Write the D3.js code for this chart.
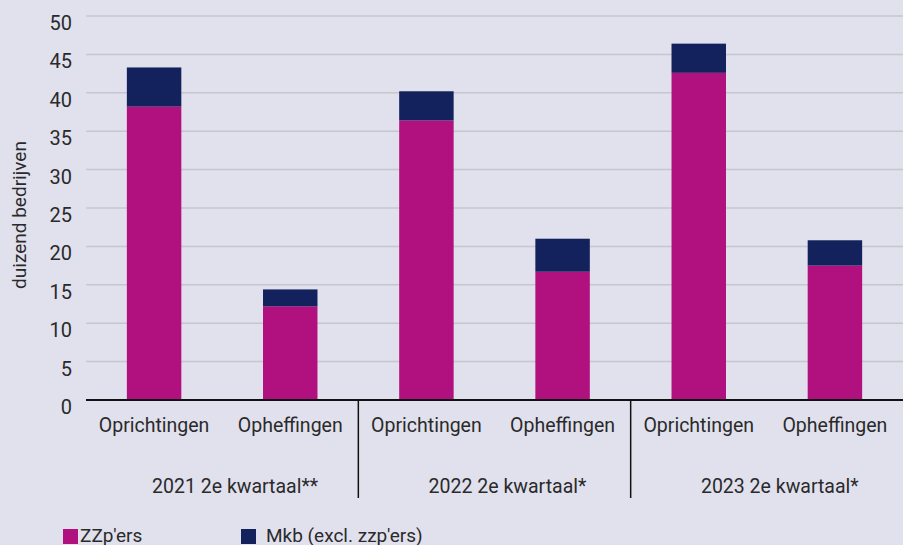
<!DOCTYPE html>
<html>
<head>
<meta charset="utf-8">
<script src="https://cdn.jsdelivr.net/npm/d3@7"></script>
<style>
  body { margin: 0; background: #e1e1ee; }
  svg { display: block; font-family: Roboto, "Open Sans", sans-serif; }
</style>
</head>
<body>
<svg id="chart" width="903" height="545"></svg>
<script>
let groups = ["2021 2e kwartaal**", "2022 2e kwartaal*", "2023 2e kwartaal*"];
let types = ["Oprichtingen", "Opheffingen"];
let zzp = [38.2, 12.2, 36.4, 16.7, 42.6, 17.5];
let mkb = [5.1, 2.2, 3.8, 4.3, 3.8, 3.3];
let yTicks = [0, 5, 10, 15, 20, 25, 30, 35, 40, 45, 50];
let seriesNames = ["ZZp'ers", "Mkb (excl. zzp'ers)"];
let colors = ["#b0117e", "#13225c"];

let svg = d3.select("#chart");
let margin = { left: 86, right: 0, top: 16, bottom: 145 };
let width = 903, height = 545;
let textColor = "#2a2a2a";

let rows = [];
groups.forEach((g, gi) => {
  types.forEach((t, ti) => {
    let i = gi * 2 + ti;
    rows.push({ key: i, group: g, type: t, zzp: zzp[i], mkb: mkb[i] });
  });
});

let x = d3.scaleBand()
  .domain(rows.map((d) => d.key))
  .range([margin.left, width - margin.right])
  .paddingInner(0.6)
  .paddingOuter(0.3);

let y = d3.scaleLinear()
  .domain([0, 50])
  .range([height - margin.bottom, margin.top]);

// gridlines
svg.append("g")
  .selectAll("line")
  .data(yTicks.filter((d) => d > 0))
  .enter()
  .append("line")
  .attr("x1", margin.left)
  .attr("x2", width)
  .attr("y1", (d) => y(d))
  .attr("y2", (d) => y(d))
  .attr("stroke", "#c6c6cf")
  .attr("stroke-width", 1.5);

// y tick labels
svg.append("g")
  .selectAll("text")
  .data(yTicks)
  .enter()
  .append("text")
  .text((d) => d)
  .attr("x", 72)
  .attr("y", (d) => y(d) + 14)
  .attr("text-anchor", "end")
  .attr("font-size", 20)
  .attr("fill", textColor);

svg.append("text")
  .text("duizend bedrijven")
  .attr("transform", "translate(26, 215) rotate(-90)")
  .attr("text-anchor", "middle")
  .attr("font-size", 19)
  .attr("fill", textColor);

// stacked bars
let stack = d3.stack().keys(["zzp", "mkb"]);
let layers = stack(rows);

svg.append("g")
  .selectAll("g")
  .data(layers)
  .enter()
  .append("g")
  .attr("fill", (d, i) => colors[i])
  .selectAll("rect")
  .data((d) => d)
  .enter()
  .append("rect")
  .attr("x", (d) => x(d.data.key))
  .attr("width", x.bandwidth())
  .attr("y", (d) => y(d[1]))
  .attr("height", (d) => y(d[0]) - y(d[1]));

// axis line
svg.append("line")
  .attr("x1", margin.left)
  .attr("x2", width)
  .attr("y1", y(0))
  .attr("y2", y(0))
  .attr("stroke", "#111")
  .attr("stroke-width", 2);

// category labels
svg.append("g")
  .selectAll("text")
  .data(rows)
  .enter()
  .append("text")
  .text((d) => d.type)
  .attr("x", (d) => x(d.key) + x.bandwidth() / 2)
  .attr("y", y(0) + 32)
  .attr("text-anchor", "middle")
  .attr("font-size", 19.5)
  .attr("fill", textColor);

// group separators and labels
let step = x.step();
let groupStart = (gi) => margin.left + gi * 2 * step;

svg.append("g")
  .selectAll("line")
  .data([1, 2])
  .enter()
  .append("line")
  .attr("x1", (d) => groupStart(d))
  .attr("x2", (d) => groupStart(d))
  .attr("y1", y(0))
  .attr("y2", y(0) + 98)
  .attr("stroke", "#111")
  .attr("stroke-width", 1.5);

svg.append("g")
  .selectAll("text")
  .data(groups)
  .enter()
  .append("text")
  .text((d) => d)
  .attr("x", (d, i) => groupStart(i) + step + 13)
  .attr("y", y(0) + 93)
  .attr("text-anchor", "middle")
  .attr("font-size", 19.5)
  .attr("fill", textColor);

// legend
let legendX = [63, 241];
let legend = svg.append("g")
  .selectAll("g")
  .data(seriesNames)
  .enter()
  .append("g")
  .attr("transform", (d, i) => `translate(${legendX[i]}, 529)`);

legend.append("rect")
  .attr("width", 15)
  .attr("height", 15)
  .attr("fill", (d, i) => colors[i]);

legend.append("text")
  .text((d) => d)
  .attr("x", (d, i) => (i === 0 ? 17 : 25))
  .attr("y", 13)
  .attr("font-size", 19)
  .attr("fill", textColor);
</script>
</body>
</html>
